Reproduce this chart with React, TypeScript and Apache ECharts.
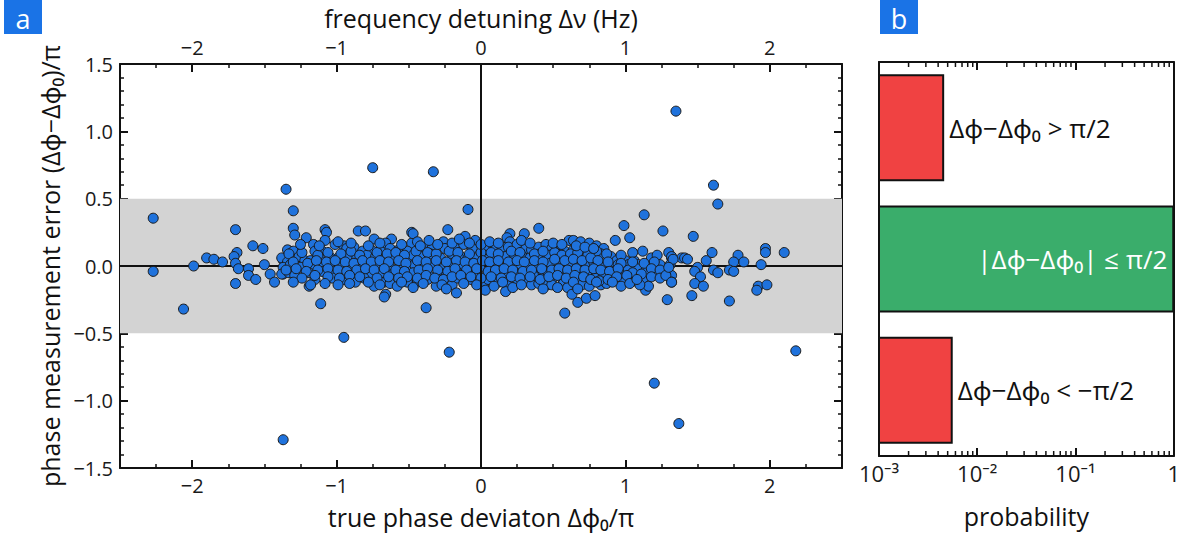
import React, { useEffect, useRef } from "react";
import * as echarts from "echarts";

// ---------- data (x = true phase deviation Δϕ0/π, y = measurement error (Δϕ−Δϕ0)/π) ----------
const wingLeft: [number, number][] = [
  [-2.27, 0.355], [-2.27, -0.04], [-1.99, 0.0], [-2.06, -0.32], [-1.9, 0.06], [-1.85, 0.05], [-1.79, 0.03],
  [-1.7, 0.27], [-1.69, 0.1], [-1.71, 0.07], [-1.7, 0.02], [-1.68, -0.02], [-1.7, -0.13], [-1.61, -0.02],
  [-1.61, -0.07], [-1.58, 0.15], [-1.56, -0.1], [-1.51, 0.13], [-1.5, 0.01], [-1.46, -0.06], [-1.43, -0.12],
  [-1.37, 0.044], [-1.34, -0.03], [-1.37, -0.06],
];

const cloudWest: [number, number][] = [
  [-1.3, 0.28], [-1.29, 0.23], [-1.21, 0.21], [-1.08, 0.27], [-1.07, 0.25], [-1.08, 0.19], [-0.85, 0.26],
  [-0.8, 0.26], [-0.74, 0.2], [-0.62, 0.2], [-0.48, 0.25], [-0.48, 0.17],
  [-1.34, 0.12], [-1.3, 0.11], [-1.16, 0.16], [-1.15, 0.11], [-1.1, 0.11], [-1.01, 0.16], [-0.95, 0.15],
  [-0.93, 0.13], [-0.88, 0.14], [-0.82, 0.11], [-0.76, 0.12], [-0.69, 0.13], [-0.66, 0.17], [-0.63, 0.13],
  [-0.57, 0.12], [-0.51, 0.11],
  [-1.38, 0.06], [-1.34, 0.03], [-1.26, 0.07], [-1.22, 0.04], [-1.18, 0.04], [-1.12, 0.07], [-1.04, 0.06],
  [-0.99, 0.06], [-0.92, 0.08], [-0.86, 0.06], [-0.79, 0.08], [-0.73, 0.07], [-0.67, 0.06], [-0.61, 0.06],
  [-0.54, 0.07], [-0.49, 0.04],
  [-1.37, -0.01], [-1.32, 0.01], [-1.25, -0.01], [-1.17, -0.02], [-1.09, 0.01], [-1.03, 0.01], [-0.97, 0.0],
  [-0.91, -0.01], [-0.84, 0.01], [-0.78, -0.02], [-0.71, 0.01], [-0.63, -0.01], [-0.56, 0.01], [-0.5, -0.02],
  [-1.38, -0.06], [-1.33, -0.05], [-1.29, -0.07], [-1.19, -0.05], [-1.1, -0.04], [-1.02, -0.04], [-0.95, -0.06],
  [-0.88, -0.08], [-0.81, -0.04], [-0.76, -0.07], [-0.69, -0.05], [-0.61, -0.06], [-0.55, -0.05], [-0.48, -0.07],
  [-1.15, -0.1], [-1.03, -0.09], [-0.95, -0.1], [-0.87, -0.12], [-0.81, -0.09], [-0.67, -0.12], [-0.63, -0.13],
  [-0.58, -0.15], [-0.51, -0.12], [-0.74, -0.15],
  [-1.19, -0.15], [-1.18, -0.14], [-0.66, -0.21], [-0.67, -0.23], [-1.11, -0.28],
];

const cloudCenter: [number, number][] = [
  [-0.47, 0.24], [-0.23, 0.27], [-0.11, 0.22], [-0.04, 0.19], [0.2, 0.24], [0.3, 0.24], [0.4, 0.28], [0.18, 0.21],
  [0.2, 0.18],
  [-0.44, 0.18], [-0.39, 0.14], [-0.34, 0.13], [-0.26, 0.18], [-0.25, 0.13], [-0.18, 0.14], [-0.12, 0.16],
  [-0.06, 0.13], [0.04, 0.13], [0.09, 0.14], [0.15, 0.14], [0.19, 0.14], [0.25, 0.16], [0.31, 0.13], [0.35, 0.12],
  [0.4, 0.14], [0.45, 0.16],
  [-0.47, 0.08], [-0.42, 0.07], [-0.35, 0.09], [-0.28, 0.06], [-0.2, 0.08], [-0.14, 0.07], [-0.09, 0.06],
  [-0.03, 0.06], [0.03, 0.05], [0.1, 0.07], [0.17, 0.07], [0.23, 0.06], [0.28, 0.08], [0.34, 0.06], [0.41, 0.09],
  [0.46, 0.06],
  [-0.46, 0.01], [-0.4, -0.01], [-0.33, 0.01], [-0.27, -0.02], [-0.21, 0.02], [-0.14, -0.01], [-0.07, 0.01],
  [-0.01, -0.01], [0.08, 0.01], [0.13, -0.01], [0.2, 0.01], [0.26, -0.01], [0.33, 0.01], [0.39, -0.01], [0.45, 0.01],
  [-0.47, -0.05], [-0.41, -0.05], [-0.35, -0.08], [-0.29, -0.05], [-0.24, -0.07], [-0.17, -0.04], [-0.11, -0.08],
  [-0.04, -0.05], [0.04, -0.07], [0.11, -0.06], [0.18, -0.08], [0.24, -0.05], [0.31, -0.07], [0.38, -0.08],
  [0.43, -0.05],
  [-0.44, -0.12], [-0.37, -0.1], [-0.31, -0.15], [-0.2, -0.14], [-0.16, -0.09], [-0.07, -0.1], [0.02, -0.15],
  [0.05, -0.1], [0.12, -0.12], [0.18, -0.14], [0.25, -0.12], [0.3, -0.1], [0.35, -0.14], [0.4, -0.13], [0.46, -0.14],
  [-0.17, -0.2], [0.03, -0.18], [0.17, -0.19],
];

const cloudEast: [number, number][] = [
  [0.99, 0.3], [1.13, 0.38], [1.26, 0.26], [0.93, 0.19], [1.03, 0.21],
  [0.61, 0.19], [0.64, 0.19], [0.69, 0.18], [0.75, 0.17], [0.8, 0.15], [0.85, 0.13], [0.54, 0.14], [0.49, 0.13],
  [0.47, 0.08], [0.53, 0.09], [0.58, 0.11], [0.64, 0.12], [0.7, 0.11], [0.77, 0.11], [0.83, 0.09], [0.9, 0.07],
  [0.94, 0.04], [1.0, 0.04], [1.06, 0.04], [1.12, 0.11], [1.18, 0.06], [1.22, 0.08], [1.3, 0.1], [1.32, 0.06],
  [1.39, 0.06],
  [0.48, 0.02], [0.55, 0.03], [0.61, 0.01], [0.67, 0.03], [0.72, 0.02], [0.78, 0.03], [0.84, 0.01], [0.9, -0.01],
  [0.95, 0.01], [1.02, 0.01], [1.09, 0.01], [1.16, -0.01], [1.24, 0.01], [1.31, 0.01],
  [0.46, -0.04], [0.52, -0.04], [0.57, -0.05], [0.63, -0.04], [0.69, -0.05], [0.75, -0.04], [0.8, -0.05],
  [0.86, -0.05], [0.92, -0.04], [0.98, -0.04], [1.02, -0.03], [1.08, -0.02], [1.14, -0.04], [1.2, -0.04],
  [1.27, -0.06], [1.32, -0.07],
  [0.49, -0.1], [0.56, -0.09], [0.62, -0.08], [0.68, -0.09], [0.73, -0.1], [0.79, -0.09], [0.85, -0.08],
  [0.91, -0.07], [0.98, -0.09], [1.07, -0.11], [1.12, -0.1], [1.32, -0.12],
  [0.49, -0.14], [0.57, -0.13], [0.6, -0.16], [0.7, -0.14], [0.75, -0.15], [0.83, -0.14], [0.87, -0.13],
  [0.97, -0.15], [1.14, -0.18], [1.16, -0.15],
  [0.63, -0.21], [0.67, -0.27], [0.73, -0.24], [0.79, -0.22], [1.29, -0.25],
];

// extra points read between the rows of the dense core
const cloudFill: [number, number][] = [
  [-1.33, 0.09], [-1.24, 0.1], [-1.13, 0.08], [-1.06, 0.1], [-0.97, 0.09], [-0.9, 0.11], [-0.84, 0.08],
  [-0.72, 0.1], [-0.65, 0.09], [-0.59, 0.1], [-0.53, 0.08], [-0.45, 0.11], [-0.37, 0.1], [-0.31, 0.09],
  [-0.22, 0.11], [-0.16, 0.1], [-0.08, 0.09], [0.0, 0.1], [0.07, 0.1], [0.12, 0.09], [0.21, 0.11], [0.27, 0.1],
  [0.37, 0.09], [0.43, 0.11], [0.51, 0.1], [0.56, 0.08], [0.62, 0.09], [0.67, 0.1], [0.74, 0.08], [0.8, 0.11],
  [0.87, 0.09], [0.97, 0.08], [1.05, 0.1],
  [-1.3, 0.03], [-1.2, 0.02], [-1.14, 0.04], [-1.07, 0.03], [-1.01, 0.04], [-0.94, 0.03], [-0.88, 0.02],
  [-0.82, 0.04], [-0.76, 0.03], [-0.7, 0.04], [-0.64, 0.03], [-0.57, 0.04], [-0.52, 0.02], [-0.44, 0.04],
  [-0.38, 0.03], [-0.31, 0.04], [-0.24, 0.03], [-0.17, 0.04], [-0.11, 0.03], [-0.05, 0.02], [0.01, 0.04],
  [0.06, 0.03], [0.12, 0.04], [0.19, 0.03], [0.25, 0.04], [0.3, 0.03], [0.37, 0.04], [0.43, 0.03], [0.51, 0.05],
  [0.58, 0.04], [0.64, 0.05], [0.7, 0.04], [0.76, 0.06], [0.81, 0.04], [0.88, 0.03], [0.97, 0.02], [1.05, 0.03],
  [1.13, 0.02], [1.2, 0.03],
  [-1.35, -0.03], [-1.28, -0.02], [-1.21, -0.04], [-1.13, -0.03], [-1.06, -0.02], [-0.99, -0.03], [-0.93, -0.04],
  [-0.86, -0.03], [-0.8, -0.02], [-0.74, -0.03], [-0.67, -0.02], [-0.59, -0.03], [-0.53, -0.04], [-0.43, -0.03],
  [-0.37, -0.02], [-0.3, -0.03], [-0.23, -0.04], [-0.18, -0.02], [-0.1, -0.03], [-0.03, -0.02], [0.05, -0.04],
  [0.1, -0.03], [0.16, -0.02], [0.22, -0.03], [0.29, -0.04], [0.35, -0.03], [0.42, -0.02], [0.49, -0.03],
  [0.54, -0.02], [0.6, -0.03], [0.66, -0.02], [0.72, -0.03], [0.78, -0.02], [0.83, -0.03], [0.89, -0.04],
  [0.95, -0.02], [1.05, -0.05], [1.11, -0.06], [1.18, -0.02], [1.24, -0.03],
  [-1.24, -0.09], [-1.15, -0.07], [-1.06, -0.08], [-0.98, -0.09], [-0.91, -0.07], [-0.84, -0.08], [-0.72, -0.09],
  [-0.64, -0.08], [-0.57, -0.09], [-0.51, -0.08], [-0.44, -0.09], [-0.38, -0.07], [-0.32, -0.09], [-0.26, -0.1],
  [-0.2, -0.08], [-0.14, -0.07], [-0.07, -0.08], [0.0, -0.09], [0.07, -0.08], [0.14, -0.09], [0.21, -0.08],
  [0.27, -0.09], [0.34, -0.08], [0.41, -0.1], [0.47, -0.08], [0.53, -0.07], [0.59, -0.09], [0.65, -0.07],
  [0.71, -0.08], [0.76, -0.1], [0.82, -0.11], [0.88, -0.1], [0.94, -0.08], [1.01, -0.07], [1.18, -0.08],
  [1.24, -0.09],
  [-1.25, 0.16], [-1.12, 0.15], [-0.99, 0.18], [-0.9, 0.17], [-0.78, 0.15], [-0.7, 0.17], [-0.55, 0.16],
  [-0.42, 0.15], [-0.36, 0.19], [-0.3, 0.16], [-0.2, 0.17], [-0.15, 0.2], [-0.08, 0.17], [0.0, 0.16],
  [0.06, 0.18], [0.12, 0.17], [0.28, 0.19], [0.34, 0.17], [0.5, 0.17], [0.56, 0.16], [0.66, 0.15], [0.72, 0.14],
  [0.78, 0.13],
  [-1.3, -0.12], [-1.08, -0.13], [-0.99, -0.14], [-0.91, -0.13], [-0.78, -0.12], [-0.7, -0.14], [-0.55, -0.12],
  [-0.47, -0.16], [-0.4, -0.13], [-0.27, -0.14], [-0.24, -0.17], [-0.12, -0.13], [-0.03, -0.14], [0.09, -0.15],
  [0.15, -0.12], [0.22, -0.16], [0.28, -0.14], [0.43, -0.17], [0.53, -0.16], [0.64, -0.12], [0.67, -0.17],
  [0.8, -0.12], [0.91, -0.12], [1.03, -0.13], [1.1, -0.14],
];

const tailRight: [number, number][] = [
  [1.47, 0.22], [1.32, 0.07], [1.33, 0.05], [1.41, 0.06], [1.43, 0.05], [1.56, 0.04], [1.6, 0.1], [1.5, -0.01],
  [1.48, -0.04], [1.61, -0.03], [1.64, -0.05], [1.52, -0.08], [1.48, -0.13], [1.54, -0.15], [1.46, -0.22],
  [1.78, 0.08], [1.82, 0.03], [1.75, 0.03], [1.72, -0.03], [1.75, -0.04], [1.72, -0.26], [1.97, 0.13],
  [1.97, 0.1], [2.1, 0.1], [1.94, 0.01], [1.92, -0.15], [1.91, -0.18], [1.98, -0.14], [1.28, -0.07],
  [1.32, -0.12], [1.08, -0.1], [1.3, -0.01],
];

const outliers: [number, number][] = [
  [-1.35, 0.57], [-1.3, 0.41], [-0.75, 0.73], [-0.33, 0.7], [-0.09, 0.42], [1.35, 1.15], [1.61, 0.6],
  [1.64, 0.46], [-0.95, -0.53], [-0.22, -0.64], [-1.37, -1.29], [1.2, -0.87], [1.37, -1.17], [2.18, -0.63],
  [-0.38, -0.31], [0.58, -0.35],
];

const zeroLine: [number, number][] = [[-2.5, 0], [2.5, 0]];

// panel b
const probCategories = ["Δϕ−Δϕ₀ > π/2", "|Δϕ−Δϕ₀| ≤ π/2", "Δϕ−Δϕ₀ < −π/2"];
const probValues = [0.0045, 0.99, 0.0055];
const probMin = 0.001;
const probMax = 1;
const logMinorTicks = [
  0.002, 0.003, 0.004, 0.005, 0.006, 0.007, 0.008, 0.009,
  0.02, 0.03, 0.04, 0.05, 0.06, 0.07, 0.08, 0.09,
  0.2, 0.3, 0.4, 0.5, 0.6, 0.7, 0.8, 0.9,
];
const logLabels: Record<string, string> = { "0.001": "10⁻³", "0.01": "10⁻²", "0.1": "10⁻¹", "1": "1" };

const FONT = "'Open Sans', 'Noto Sans', 'DejaVu Sans', sans-serif";
const INK = "#111";

const minus = (s: string) => s.replace("-", "−");

export default function App() {
  const ref = useRef<HTMLDivElement>(null);
  useEffect(() => {
    if (!ref.current) return;
    const chart = echarts.init(ref.current, undefined, { renderer: "svg" });
    const points = [
      ...wingLeft, ...cloudWest, ...cloudCenter, ...cloudEast, ...cloudFill, ...tailRight, ...outliers,
    ];

    const frameLine = { show: true, onZero: false, lineStyle: { color: INK, width: 2 } };
    const tick = { show: true, inside: true, length: 8, lineStyle: { color: INK, width: 2 } };
    const minor = (n: number) => ({ show: true, splitNumber: n, length: 4, lineStyle: { color: INK, width: 1.5 } });
    const tickLabel = { fontSize: 20, color: "#1a1a1a", fontFamily: FONT };
    const titleStyle = { fontSize: 25, color: INK, fontFamily: FONT };

    const option: any = {
      animation: false,
      textStyle: { fontFamily: FONT },
      grid: [
        { left: 120, right: 341, top: 63, bottom: 69 },
        { left: 879, right: 3, top: 62, bottom: 81 },
      ],
      xAxis: [
        {
          gridIndex: 0, type: "value", min: -2.5, max: 2.5, splitNumber: 5, position: "bottom",
          name: "true phase deviaton Δϕ₀/π", nameLocation: "middle", nameGap: 36, nameTextStyle: titleStyle,
          axisLine: frameLine, axisTick: tick, minorTick: minor(4), splitLine: { show: false },
          axisLabel: { ...tickLabel, margin: 7, showMinLabel: false, showMaxLabel: false, formatter: (v: number) => minus(String(v)) },
        },
        {
          gridIndex: 0, type: "value", min: -2.5, max: 2.5, splitNumber: 5, position: "top",
          name: "frequency detuning Δν (Hz)", nameLocation: "middle", nameGap: 34, nameTextStyle: titleStyle,
          axisLine: frameLine, axisTick: tick, minorTick: minor(4), splitLine: { show: false },
          axisLabel: { ...tickLabel, margin: 7, showMinLabel: false, showMaxLabel: false, formatter: (v: number) => minus(String(v)) },
        },
        {
          gridIndex: 1, type: "log", logBase: 10, min: probMin, max: probMax, position: "bottom",
          name: "probability", nameLocation: "middle", nameGap: 47, nameTextStyle: titleStyle,
          axisLine: frameLine, axisTick: tick, splitLine: { show: false }, minorTick: { show: false },
          axisLabel: { ...tickLabel, fontSize: 22, margin: 6, formatter: (v: number) => logLabels[String(v)] ?? "" },
        },
        {
          gridIndex: 1, type: "log", logBase: 10, min: probMin, max: probMax, position: "top",
          axisLine: frameLine, axisTick: tick, splitLine: { show: false }, minorTick: { show: false },
          axisLabel: { show: false },
        },
      ],
      yAxis: [
        {
          gridIndex: 0, type: "value", min: -1.5, max: 1.5, interval: 0.5, position: "left",
          name: "phase measurement error (Δϕ−Δϕ₀)/π", nameLocation: "middle", nameGap: 52, nameRotate: 90,
          nameTextStyle: titleStyle,
          axisLine: frameLine, axisTick: tick, minorTick: minor(5), splitLine: { show: false },
          axisLabel: { ...tickLabel, margin: 7, formatter: (v: number) => minus(v.toFixed(1)) },
        },
        {
          gridIndex: 0, type: "value", min: -1.5, max: 1.5, interval: 0.5, position: "right",
          axisLine: frameLine, axisTick: tick, minorTick: minor(5), splitLine: { show: false },
          axisLabel: { show: false },
        },
        {
          gridIndex: 1, type: "category", data: probCategories, inverse: true, position: "left",
          axisLine: frameLine, axisTick: { show: false }, axisLabel: { show: false }, splitLine: { show: false },
        },
        {
          gridIndex: 1, type: "category", data: probCategories, inverse: true, position: "right",
          axisLine: frameLine, axisTick: { show: false }, axisLabel: { show: false }, splitLine: { show: false },
        },
      ],
      series: [
        {
          type: "line", xAxisIndex: 0, yAxisIndex: 0, data: zeroLine, symbol: "none", silent: true, z: 1,
          lineStyle: { color: INK, width: 2 },
          markArea: {
            silent: true, itemStyle: { color: "#d3d3d3" },
            data: [[{ yAxis: -0.5 }, { yAxis: 0.5 }]],
          },
          markLine: {
            silent: true, symbol: "none", label: { show: false },
            lineStyle: { color: INK, width: 2, type: "solid" },
            data: [{ xAxis: 0 }],
          },
        },
        {
          type: "scatter", xAxisIndex: 0, yAxisIndex: 0, data: points, symbolSize: 10, z: 3,
          itemStyle: { color: "#1f72dc", borderColor: "#1a1a1a", borderWidth: 1, opacity: 1 },
        },
        {
          type: "custom", xAxisIndex: 2, yAxisIndex: 2, z: 3,
          data: probValues.map((v, i) => [v, i]),
          encode: { x: 0, y: 1 },
          renderItem: (params: any, api: any) => {
            const v = api.value(0);
            const idx = api.value(1);
            const start = api.coord([probMin, idx]);
            const end = api.coord([v, idx]);
            const h = api.size([0, 1])[1] * 0.8;
            const main = idx === 1;
            return {
              type: "group",
              children: [
                {
                  type: "rect",
                  shape: { x: start[0], y: start[1] - h / 2, width: end[0] - start[0], height: h },
                  style: { fill: main ? "#3aad6b" : "#f04242", stroke: INK, lineWidth: 2 },
                },
                {
                  type: "text",
                  x: main ? end[0] - 6 : end[0] + 6,
                  y: start[1],
                  style: {
                    text: probCategories[idx], fill: main ? "#ffffff" : INK, fontSize: 26, fontFamily: FONT,
                    align: main ? "right" : "left", verticalAlign: "middle",
                  },
                },
              ],
            };
          },
        },
        {
          type: "custom", xAxisIndex: 2, yAxisIndex: 2, z: 4, silent: true,
          data: logMinorTicks.map((v) => [v, 0]),
          encode: { x: 0, y: 1 },
          renderItem: (params: any, api: any) => {
            const cs = params.coordSys;
            const x = api.coord([api.value(0), 0])[0];
            const st = { stroke: INK, lineWidth: 1.5 };
            return {
              type: "group",
              children: [
                { type: "line", shape: { x1: x, y1: cs.y + cs.height, x2: x, y2: cs.y + cs.height - 5 }, style: st },
                { type: "line", shape: { x1: x, y1: cs.y, x2: x, y2: cs.y + 5 }, style: st },
              ],
            };
          },
        },
      ],
      graphic: [
        { type: "rect", x: 4, y: 0, shape: { x: 0, y: 0, width: 38, height: 34 }, style: { fill: "#1a73e6" } },
        {
          type: "text", x: 23, y: 18,
          style: { text: "a", fill: "#fff", fontSize: 27, fontFamily: FONT, align: "center", verticalAlign: "middle" },
        },
        { type: "rect", x: 880, y: 0, shape: { x: 0, y: 0, width: 38, height: 34 }, style: { fill: "#1a73e6" } },
        {
          type: "text", x: 899, y: 18,
          style: { text: "b", fill: "#fff", fontSize: 27, fontFamily: FONT, align: "center", verticalAlign: "middle" },
        },
      ],
    };
    chart.setOption(option);
    return () => chart.dispose();
  }, []);
  return (
    <div
      ref={ref}
      style={{ position: "absolute", left: 0, top: 0, width: 1183, height: 537, background: "#fff" }}
    />
  );
}
